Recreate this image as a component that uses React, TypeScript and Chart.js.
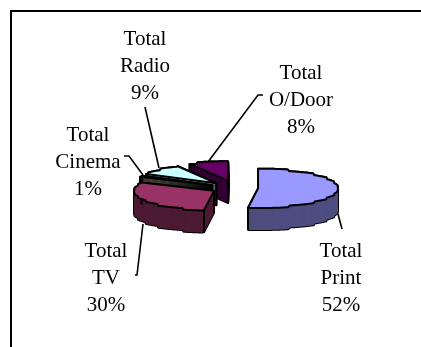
import React, { useEffect, useRef } from "react";
import { Chart, registerables } from "chart.js";

Chart.register(...registerables);

const categories = ["Total Print", "Total TV", "Total Cinema", "Total Radio", "Total O/Door"];
const shares = [52, 30, 1, 9, 8];
const topColours = ["#9999FF", "#993366", "#8C8C6E", "#CCFFFF", "#660066"];
const sideColours = ["#4D4D80", "#4D1A33", "#46463A", "#7FA3A3", "#330033"];
const explode = [22.6, 24.5, 26, 27, 29.6];

const TILT = 0.244;
const DEPTH = 22;
const PIE_RADIUS = 80;
const FONT = '21px "Liberation Serif"';
const LINE_GAP = 27;
const EDGE_STEP = 4;
const EDGE_ROUGHNESS = 0.4;

// Back-to-front paint order for the extruded slices.
const paintOrder = [4, 3, 2, 1, 0];

// Label block centres and their leader polylines, by slice index.
const labelLayout = [
  { x: 341, y: 250, leader: [[338, 214], [342, 229]] },
  { x: 106, y: 250, leader: [[143, 224], [137, 275], [135, 275]] },
  { x: 88, y: 134, leader: [[143, 175], [129, 156], [124, 156]] },
  { x: 145, y: 38, leader: [[159, 168], [145, 107]] },
  { x: 301, y: 72, leader: [[208, 162], [258, 95], [263, 95]] },
];

const tiltedPie = {
  id: "tiltedPie",
  beforeDraw(chart: any) {
    const { ctx, width, height } = chart;
    ctx.save();
    ctx.fillStyle = "#fff";
    ctx.fillRect(0, 0, width, height);
    ctx.strokeStyle = "#000";
    ctx.lineWidth = 2;
    ctx.beginPath();
    ctx.moveTo(11, height);
    ctx.lineTo(11, 11);
    ctx.lineTo(width, 11);
    ctx.stroke();
    ctx.restore();
  },
  beforeDatasetsDraw(chart: any) {
    const { ctx } = chart;
    const arcs = chart.getDatasetMeta(0).data;

    ctx.save();
    ctx.lineJoin = "round";
    for (const i of paintOrder) {
      const arc = arcs[i];
      const { x, y, startAngle, endAngle, outerRadius } = arc.getProps(
        ["x", "y", "startAngle", "endAngle", "outerRadius"],
        true,
      );
      const mid = (startAngle + endAngle) / 2;
      const apexX = x + arc.options.offset * Math.cos(mid);
      const apexY = y + arc.options.offset * Math.sin(mid) * TILT;

      // Slice outline whose rim ripples slightly, as a coarse plot would trace it.
      const path = (dy: number) => {
        const samples = Math.max(2, Math.ceil((endAngle - startAngle) * 60));
        ctx.beginPath();
        ctx.moveTo(apexX, apexY + dy);
        for (let s = 0; s <= samples; s++) {
          const a = startAngle + ((endAngle - startAngle) * s) / samples;
          const px = apexX + outerRadius * Math.cos(a);
          const rim = outerRadius * TILT * Math.sin(a);
          const stepped = Math.round(rim / EDGE_STEP) * EDGE_STEP;
          const py = s === 0 || s === samples ? rim : rim + EDGE_ROUGHNESS * (stepped - rim);
          ctx.lineTo(px, apexY + py + dy);
        }
        ctx.closePath();
      };

      // Extruded wall: a black silhouette with the dark side colour inside it.
      ctx.strokeStyle = "#000";
      ctx.lineWidth = 2;
      for (let dy = DEPTH; dy >= 0; dy--) {
        path(dy);
        ctx.stroke();
      }
      ctx.fillStyle = sideColours[i];
      for (let dy = DEPTH; dy >= 0; dy--) {
        path(dy);
        ctx.fill();
      }

      // Vertical edges at the cut corners; a reflex slice hides its apex edge.
      ctx.beginPath();
      for (const a of [startAngle, endAngle]) {
        const cx = apexX + outerRadius * Math.cos(a);
        const cy = apexY + outerRadius * TILT * Math.sin(a);
        ctx.moveTo(cx, cy);
        ctx.lineTo(cx, cy + DEPTH);
      }
      if (endAngle - startAngle < Math.PI) {
        ctx.moveTo(apexX, apexY);
        ctx.lineTo(apexX, apexY + DEPTH);
      }
      ctx.stroke();

      // Top face.
      path(0);
      ctx.fillStyle = topColours[i];
      ctx.fill();
      ctx.stroke();
    }
    ctx.restore();
    return false;
  },
  afterDraw(chart: any) {
    const { ctx } = chart;
    ctx.save();
    ctx.strokeStyle = "#000";
    ctx.lineWidth = 1.6;
    ctx.fillStyle = "#000";
    ctx.font = FONT;
    ctx.textAlign = "center";
    ctx.textBaseline = "middle";
    categories.forEach((name, i) => {
      const { x, y, leader } = labelLayout[i];
      ctx.beginPath();
      leader.forEach(([lx, ly], k) => (k ? ctx.lineTo(lx, ly) : ctx.moveTo(lx, ly)));
      ctx.stroke();
      const lines = [...name.split(" "), `${shares[i]}%`];
      lines.forEach((line, k) => ctx.fillText(line, x, y + 1 + k * LINE_GAP));
    });
    ctx.restore();
  },
};

export default function App() {
  const canvasRef = useRef<HTMLCanvasElement>(null);

  useEffect(() => {
    const chart = new Chart(canvasRef.current!, {
      type: "pie",
      data: {
        labels: categories,
        datasets: [
          {
            data: shares,
            backgroundColor: topColours,
            offset: explode,
            borderWidth: 0,
          },
        ],
      },
      options: {
        animation: false,
        responsive: false,
        rotation: 0,
        radius: PIE_RADIUS,
        layout: { padding: { left: 50, top: 29 } },
        plugins: { legend: { display: false }, tooltip: { enabled: false } },
      },
      plugins: [tiltedPie],
    } as any);
    return () => chart.destroy();
  }, []);

  return (
    <div style={{ position: "fixed", left: 0, top: 0, width: 421, height: 347, background: "#fff" }}>
      <canvas ref={canvasRef} width={421} height={347} style={{ display: "block" }} />
    </div>
  );
}
